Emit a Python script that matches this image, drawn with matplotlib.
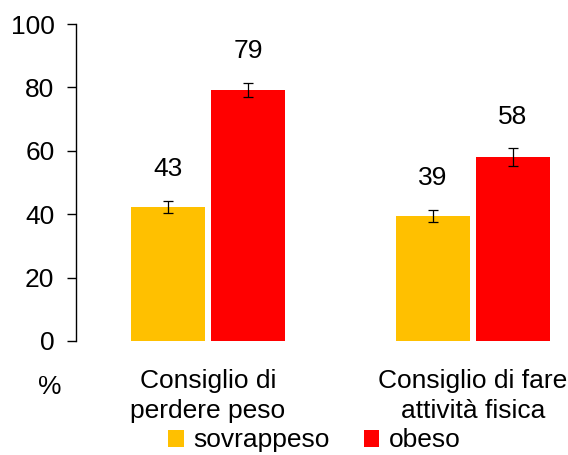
import matplotlib
matplotlib.use("Agg")
import matplotlib.pyplot as plt
import numpy as np

plt.rcParams['font.family'] = ['Liberation Sans', 'DejaVu Sans']

categorie = ["Consiglio di\nperdere peso", "Consiglio di fare\nattività fisica"]
serie = ["sovrappeso", "obeso"]
valori = {
    "sovrappeso": [42.3, 39.4],
    "obeso": [79.2, 58.0],
}
errori = {
    "sovrappeso": [1.9, 1.9],
    "obeso": [2.2, 2.8],
}
etichette = {
    "sovrappeso": ["43", "39"],
    "obeso": ["79", "58"],
}
colori = {"sovrappeso": "#FFC000", "obeso": "#FF0000"}

fig = plt.figure(figsize=(5.68, 4.55), dpi=100)
ax = fig.add_axes([76 / 568, 1 - 341 / 455, (568 - 76) / 568, (341 - 24) / 455])

x = np.arange(len(categorie))
w = 0.279
offs = [-0.151, 0.151]
for s, o in zip(serie, offs):
    ax.bar(x + o, valori[s], w, color=colori[s], label=s,
           yerr=errori[s], capsize=3.5,
           error_kw=dict(ecolor="black", elinewidth=0.9, capthick=0.9))
    for xi, v, e, t in zip(x + o, valori[s], errori[s], etichette[s]):
        ax.text(xi, v + e + 10, t, ha="center", va="center", fontsize=19)

ax.set_xlim(-0.498, 1.359)
ax.set_ylim(0, 100)
ax.set_yticks([0, 20, 40, 60, 80, 100])
ax.set_xticks(x)
ax.set_xticklabels(categorie, fontsize=19, linespacing=1.35)
ax.tick_params(axis="x", length=0, pad=20)
ax.tick_params(axis="y", labelsize=19, length=6.5, width=1, direction="out", pad=9)
for sp in ["top", "right", "bottom"]:
    ax.spines[sp].set_visible(False)
ax.spines["left"].set_linewidth(1)

fig.text(50 / 568, 1 - 387 / 455, "%", ha="center", va="center", fontsize=19)

fig.legend(loc="center", bbox_to_anchor=(0.553, 0.032), ncol=2, frameon=False,
           fontsize=19, handlelength=0.6, handleheight=0.6, handletextpad=0.35,
           columnspacing=1.3, borderpad=0)

fig.savefig("out.png", dpi=100)
